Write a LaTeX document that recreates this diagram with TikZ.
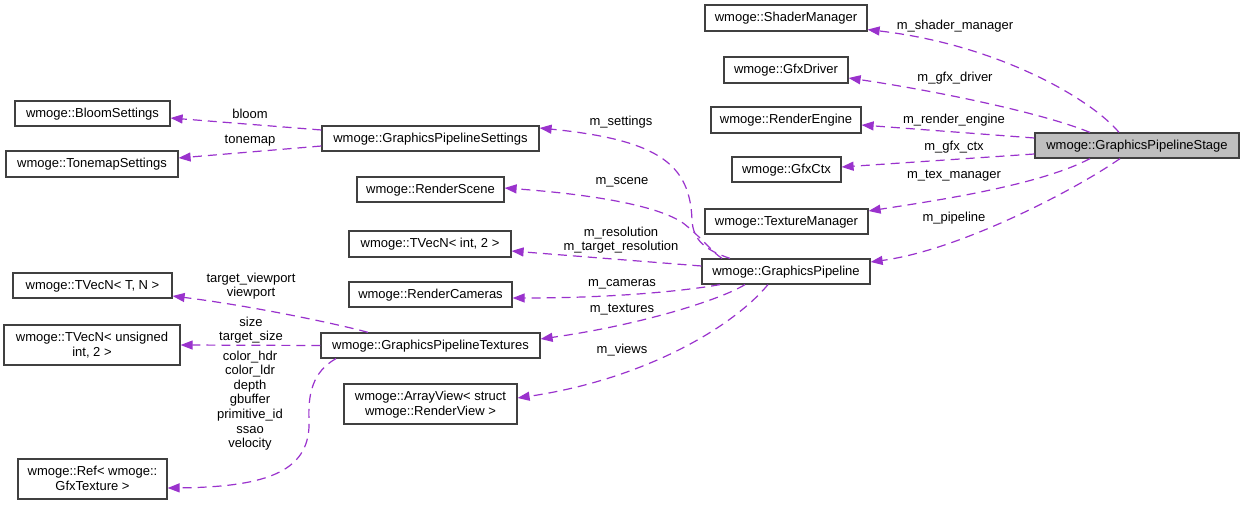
\documentclass[tikz,border=0pt]{standalone}
\usepackage{fontspec}
\setmainfont{Liberation Sans}
\usetikzlibrary{arrows.meta}
\definecolor{edgec}{HTML}{9A32CD}
\definecolor{boxc}{HTML}{404040}
\definecolor{grayfill}{HTML}{BFBFBF}
\begin{document}
\begin{tikzpicture}[x=1pt,y=-1pt,
  cls/.style={draw=boxc, line width=1.2pt, fill=white, inner sep=0pt, align=center, text depth=1.5pt, font=\fontsize{13}{14.5}\selectfont},
  lbl/.style={inner sep=0pt, align=center, font=\fontsize{13}{14.6}\selectfont},
  rel/.style={draw=edgec, line width=1.2pt, dash pattern=on 9pt off 6pt, -{Triangle[length=12pt,width=9pt,fill=edgec]}}]
\useasboundingbox (0,0) rectangle (1244,505);
\fill[white] (0,0) rectangle (1244,505);
% right column
\node[cls, minimum width=162pt, minimum height=26pt] (sm) at (786,18) {wmoge::ShaderManager};
\node[cls, minimum width=124pt, minimum height=26pt] (gd) at (786,70) {wmoge::GfxDriver};
\node[cls, minimum width=150pt, minimum height=26pt] (re) at (786,120) {wmoge::RenderEngine};
\node[cls, minimum width=204pt, minimum height=25pt, fill=grayfill] (gps) at (1137,145.5) {wmoge::GraphicsPipelineStage};
\node[cls, minimum width=109pt, minimum height=25pt] (gc) at (786.5,169.5) {wmoge::GfxCtx};
\node[cls, minimum width=163pt, minimum height=25pt] (tm) at (786.5,221.5) {wmoge::TextureManager};
\node[cls, minimum width=168pt, minimum height=25pt] (gp) at (786,271.5) {wmoge::GraphicsPipeline};
% middle column
\node[cls, minimum width=217pt, minimum height=25pt] (gpset) at (430.5,138.5) {wmoge::GraphicsPipelineSettings};
\node[cls, minimum width=147pt, minimum height=25pt] (rs) at (430.5,189.5) {wmoge::RenderScene};
\node[cls, minimum width=162pt, minimum height=26pt] (tvi) at (430,244) {wmoge::TVecN< int, 2 >};
\node[cls, minimum width=163pt, minimum height=25pt] (rc) at (430.5,294.5) {wmoge::RenderCameras};
\node[cls, minimum width=219pt, minimum height=25pt] (gpt) at (430.5,345.5) {wmoge::GraphicsPipelineTextures};
\node[cls, minimum width=173pt, minimum height=40pt] (av) at (430.5,404) {wmoge::ArrayView< struct\\wmoge::RenderView >};
% left column
\node[cls, minimum width=155pt, minimum height=25pt] (bs) at (92.5,113.5) {wmoge::BloomSettings};
\node[cls, minimum width=172pt, minimum height=26pt] (ts) at (92,164) {wmoge::TonemapSettings};
\node[cls, minimum width=159pt, minimum height=25pt] (tvtn) at (92.5,285.5) {wmoge::TVecN< T, N >};
\node[cls, minimum width=176pt, minimum height=40pt] (tvu) at (92,345) {wmoge::TVecN< unsigned\\int, 2 >};
\node[cls, minimum width=149pt, minimum height=40pt] (ref) at (92.5,479) {wmoge::Ref< wmoge::\\GfxTexture >};

% edges from GraphicsPipelineStage
\draw[rel] ([xshift=-18pt]gps.north) .. controls (1092,100) and (1000,45) .. ([yshift=2pt]sm.south east);
\draw[rel] ([xshift=-47pt]gps.north) .. controls (1040,112) and (930,90) .. ([yshift=-8pt]gd.east);
\draw[rel] ([yshift=7.5pt]gps.west) -- ([yshift=-5pt]re.east);
\draw[rel] ([yshift=-8.5pt]gps.west) -- ([yshift=2.5pt]gc.east);
\draw[rel] ([xshift=-47pt]gps.south) .. controls (1040,185) and (940,200) .. ([yshift=10.5pt]tm.east);
\draw[rel] ([xshift=-17pt]gps.south) .. controls (1075,190) and (960,250) .. ([yshift=9.5pt]gp.east);
\node[lbl] (l1) at (955,26) {m\_shader\_manager};
\node[lbl] (l2) at (955,78) {m\_gfx\_driver};
\node[lbl] (l3) at (954,120) {m\_render\_engine};
\node[lbl] (l4) at (954,147) {m\_gfx\_ctx};
\node[lbl] (l5) at (954,176) {m\_tex\_manager};
\node[lbl] (l6) at (954,218) {m\_pipeline};

% edges from GraphicsPipeline
\draw[rel] ([xshift=-56pt]gp.north) .. controls (705,250) and (693,240) .. (692,220) .. controls (690,165) and (660,140) .. ([yshift=10.5pt]gpset.east);
\draw[rel] ([xshift=-64pt]gp.north) .. controls (712,252) and (700,236) .. (683,223) .. controls (660,207) and (600,195) .. ([yshift=1.5pt]rs.east);
\draw[rel] ([yshift=5.5pt]gp.west) -- ([yshift=-7pt]tvi.east);
\draw[rel] ([xshift=-66pt]gp.south) .. controls (690,290) and (620,298) .. ([yshift=-3.5pt]rc.east);
\draw[rel] ([xshift=-41pt]gp.south) .. controls (720,300) and (640,325) .. ([yshift=6.5pt]gpt.east);
\draw[rel] ([xshift=-18pt]gp.south) .. controls (730,330) and (640,380) .. ([yshift=6pt]av.east);
\node[lbl] (l7) at (621,122) {m\_settings};
\node[lbl] (l8) at (622,182) {m\_scene};
\node[lbl] (l9) at (621,240) {m\_resolution\\m\_target\_resolution};
\node[lbl] (l10) at (622,284) {m\_cameras};
\node[lbl] (l11) at (622,310) {m\_textures};
\node[lbl] (l12) at (622,350) {m\_views};

% edges from GraphicsPipelineSettings
\draw[rel] ([yshift=8.5pt]gpset.west) -- ([yshift=-4.5pt]bs.east);
\draw[rel] ([yshift=-7.5pt]gpset.west) -- ([yshift=6pt]ts.east);
\node[lbl] (l13) at (250,114) {bloom};
\node[lbl] (l14) at (250,141) {tonemap};

% edges from GraphicsPipelineTextures
\draw[rel] ([xshift=-62.5pt]gpt.north) .. controls (350,327) and (260,307) .. ([yshift=-10.5pt]tvtn.east);
\draw[rel] (gpt.west) -- (tvu.east);
\draw[rel] ([xshift=-94.5pt]gpt.south) .. controls (312,372) and (308,395) .. (309,420) .. controls (311,470) and (270,487) .. ([yshift=-9pt]ref.east);
\node[lbl] (l15) at (251,286) {target\_viewport\\viewport};
\node[lbl] (l16) at (251,330) {size\\target\_size};
\node[lbl] (l17) at (250,400.5) {color\_hdr\\color\_ldr\\depth\\gbuffer\\primitive\_id\\ssao\\velocity};
\end{tikzpicture}
\end{document}
